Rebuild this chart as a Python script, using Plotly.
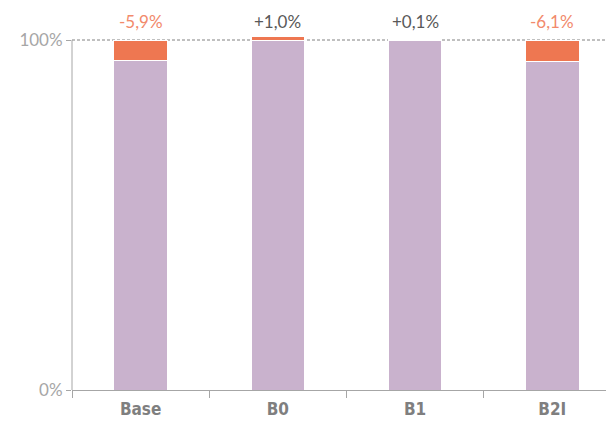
import plotly.graph_objects as go

categories = ["Base", "B0", "B1", "B2I"]
base_values = [94.1, 100.0, 100.0, 93.9]
delta_values = [5.9, 1.0, 0.1, 6.1]
delta_labels = ["-5,9%", "+1,0%", "+0,1%", "-6,1%"]
delta_sign = [-1, 1, 1, -1]
y_ticks = [0, 100]
y_tick_labels = ["0%", "100%"]

PURPLE = "#C9B2CD"
ORANGE = "#EE7751"
LABEL_ORANGE = "#F28A6B"
LABEL_GRAY = "#595959"
AXIS_GRAY = "#A6A6A6"

fig = go.Figure()
fig.add_trace(go.Bar(x=categories, y=base_values, marker=dict(color=PURPLE, line=dict(color="white", width=1)),
                     width=0.39, hoverinfo="skip"))
fig.add_trace(go.Bar(x=categories, y=delta_values, marker=dict(color=ORANGE, line=dict(color="white", width=1)),
                     width=0.39, hoverinfo="skip"))

for c, lab, s in zip(categories, delta_labels, delta_sign):
    fig.add_annotation(x=c, y=100, yshift=19, text=lab, showarrow=False, yanchor="middle",
                       font=dict(family="Lato", size=17, color=LABEL_ORANGE if s < 0 else LABEL_GRAY))

fig.add_shape(type="line", xref="paper", yref="y", x0=0, x1=1, y0=100, y1=100,
              line=dict(color="#808080", width=1, dash="3px,2px"), layer="below")
fig.add_shape(type="line", xref="paper", yref="y", x0=0, x1=0, y0=0, y1=100,
              line=dict(color=AXIS_GRAY, width=1), layer="above")

fig.update_layout(
    barmode="stack",
    width=606, height=414,
    margin=dict(l=64, r=0, t=26, b=32),
    plot_bgcolor="white", paper_bgcolor="white",
    showlegend=False,
    xaxis=dict(range=[-0.5, 3.45], showline=True, linecolor=AXIS_GRAY, linewidth=1,
               ticks="outside", tickson="boundaries", ticklen=7, tickcolor=AXIS_GRAY,
               ticklabelstandoff=4,
               tickfont=dict(family="DejaVu Sans Condensed", size=17, color="#7F7F7F", weight="bold"),
               showgrid=False, zeroline=False, fixedrange=True, automargin=False),
    yaxis=dict(range=[0, 356 / 3.5], showline=False,
               ticks="outside", ticklen=5, tickcolor=AXIS_GRAY,
               tickvals=y_ticks, ticktext=y_tick_labels,
               tickfont=dict(family="Lato", size=17, color=AXIS_GRAY),
               showgrid=False, zeroline=False, fixedrange=True, automargin=False),
)

fig.write_html("out.html")
